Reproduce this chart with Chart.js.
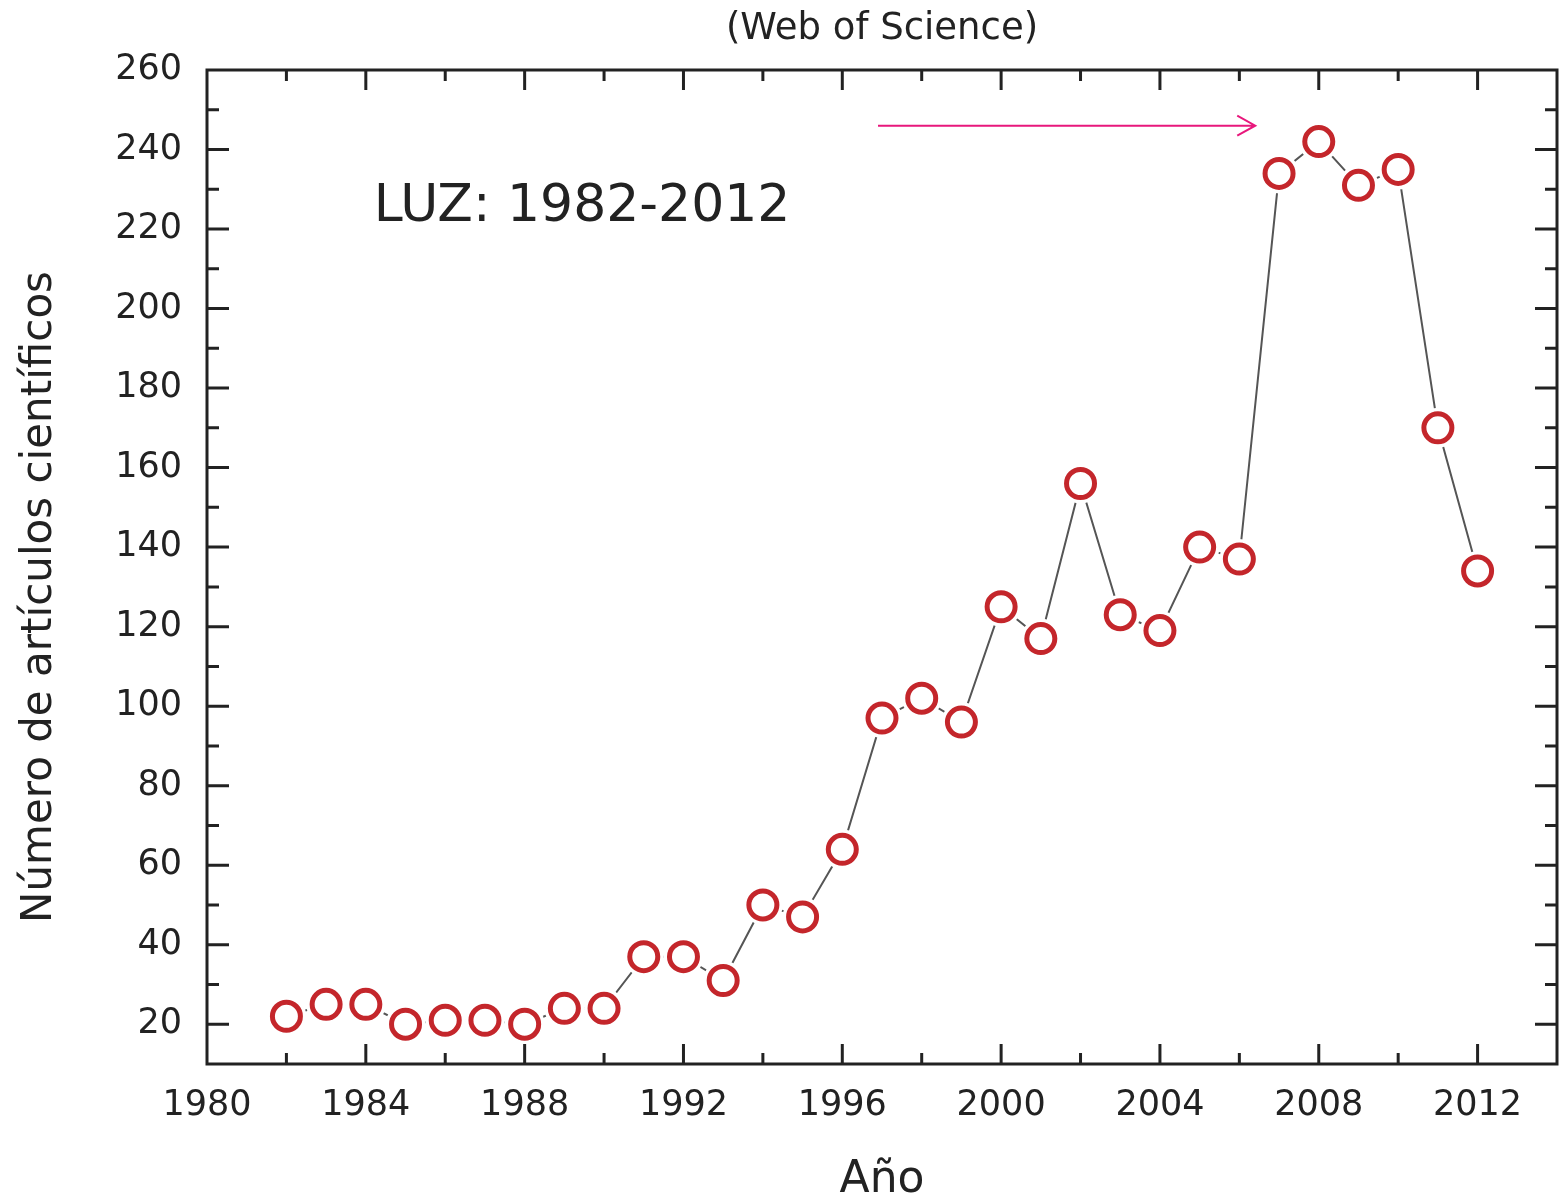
<!DOCTYPE html>
<html>
<head>
<meta charset="utf-8">
<script src="https://cdn.jsdelivr.net/npm/chart.js@4.4.1/dist/chart.umd.min.js"></script>
<style>
  html, body { margin: 0; background: #fff; overflow: hidden; }
  canvas { display: block; }
</style>
</head>
<body>
<canvas id="articlesChart" width="1560" height="1200"></canvas>
<script>
const years = [1982, 1983, 1984, 1985, 1986, 1987, 1988, 1989, 1990, 1991, 1992,
               1993, 1994, 1995, 1996, 1997, 1998, 1999, 2000, 2001, 2002, 2003,
               2004, 2005, 2006, 2007, 2008, 2009, 2010, 2011, 2012];
const articles = [22, 25, 25, 20, 21, 21, 20, 24, 24, 37, 37,
                  31, 50, 47, 64, 97, 102, 96, 125, 117, 156, 123,
                  119, 140, 137, 234, 242, 231, 235, 170, 134];

const chartTitle = "(Web of Science)";
const xTitle = "Año";
const yTitle = "Número de artículos científicos";
const noteText = "LUZ: 1982-2012";
const notePos = [1984.2, 225.4];
const arrowFrom = [1996.9, 246];
const arrowTo = [2006.4, 246];

const FONT = "'DejaVu Sans', Verdana, sans-serif";
const INK = "#222";

// box, inward ticks on every side, and the free text
const framePlugin = {
    id: "frame",
    afterDraw(chart) {
        const { ctx, chartArea: a, scales } = chart;
        const xs = scales.x, ys = scales.y;
        ctx.save();
        ctx.strokeStyle = INK;
        ctx.lineWidth = 3;
        ctx.strokeRect(a.left, a.top, a.right - a.left, a.bottom - a.top);

        xs.ticks.forEach(t => {
            const px = xs.getPixelForValue(t.value);
            if (px <= a.left + 1 || px >= a.right - 1) return;
            const len = t.value % 4 === 0 ? 20 : 11;
            ctx.beginPath();
            ctx.moveTo(px, a.bottom); ctx.lineTo(px, a.bottom - len);
            ctx.moveTo(px, a.top); ctx.lineTo(px, a.top + len);
            ctx.stroke();
        });
        ys.ticks.forEach(t => {
            const py = ys.getPixelForValue(t.value);
            if (py <= a.top + 1 || py >= a.bottom - 1) return;
            const len = t.value % 20 === 0 ? 22 : 12;
            ctx.beginPath();
            ctx.moveTo(a.left, py); ctx.lineTo(a.left + len, py);
            ctx.moveTo(a.right, py); ctx.lineTo(a.right - len, py);
            ctx.stroke();
        });

        // arrow
        const x1 = xs.getPixelForValue(arrowFrom[0]), y1 = ys.getPixelForValue(arrowFrom[1]);
        const x2 = xs.getPixelForValue(arrowTo[0]), y2 = ys.getPixelForValue(arrowTo[1]);
        ctx.strokeStyle = "#e8177c";
        ctx.lineWidth = 2;
        ctx.beginPath();
        ctx.moveTo(x1, y1); ctx.lineTo(x2, y2);
        ctx.moveTo(x2 - 18, y2 - 10); ctx.lineTo(x2, y2); ctx.lineTo(x2 - 18, y2 + 10);
        ctx.stroke();

        ctx.fillStyle = INK;
        ctx.textBaseline = "middle";
        ctx.textAlign = "left";
        ctx.font = "52px " + FONT;
        ctx.fillText(noteText, xs.getPixelForValue(notePos[0]), ys.getPixelForValue(notePos[1]));

        ctx.textAlign = "center";
        ctx.font = "37px " + FONT;
        ctx.fillText(chartTitle, (a.left + a.right) / 2, 29);

        ctx.translate(40, 597);
        ctx.rotate(-Math.PI / 2);
        ctx.font = "42px " + FONT;
        ctx.fillText(yTitle, 0, 0);
        ctx.restore();
    }
};

const points = years.map((y, i) => ({ x: y, y: articles[i] }));

new Chart(document.getElementById("articlesChart"), {
    type: "line",
    data: {
        datasets: [{
            // markers
            data: points,
            showLine: false,
            pointRadius: 14,
            pointHoverRadius: 14,
            pointBorderWidth: 5,
            pointBorderColor: "#c4262b",
            pointBackgroundColor: "#fff",
            order: 0
        }, {
            // connecting line, with a white gap around each marker
            data: points,
            borderColor: "#555",
            borderWidth: 2,
            tension: 0,
            pointRadius: 20,
            pointHoverRadius: 20,
            pointBorderWidth: 0,
            pointBackgroundColor: "#fff",
            order: 1
        }]
    },
    options: {
        responsive: false,
        animation: false,
        // big point radius would otherwise add padding on the right
        layout: { autoPadding: false, padding: { top: 70, right: 3, left: 0, bottom: 0 } },
        plugins: { legend: { display: false }, tooltip: { enabled: false } },
        scales: {
            x: {
                type: "linear",
                min: 1980, max: 2014,
                grid: { display: false },
                border: { display: false },
                ticks: {
                    stepSize: 2,
                    autoSkip: false,
                    maxRotation: 0,
                    padding: 13,
                    color: INK,
                    font: { family: FONT, size: 35 },
                    callback: v => (v % 4 === 0 ? String(v) : "")
                },
                title: {
                    display: true, text: xTitle, color: INK,
                    font: { family: FONT, size: 44, lineHeight: 1.0 },
                    padding: { top: 0, bottom: -3 }
                },
                afterFit: s => { s.height = 136; s.paddingRight = 0; }
            },
            y: {
                min: 10, max: 260,
                grid: { display: false },
                border: { display: false },
                ticks: {
                    stepSize: 10,
                    autoSkip: false,
                    padding: 17,
                    color: INK,
                    font: { family: FONT, size: 35 },
                    callback: v => (v % 20 === 0 ? String(v) : "")
                },
                afterFit: s => { s.width = 207; }
            }
        }
    },
    plugins: [framePlugin]
});
</script>
</body>
</html>
